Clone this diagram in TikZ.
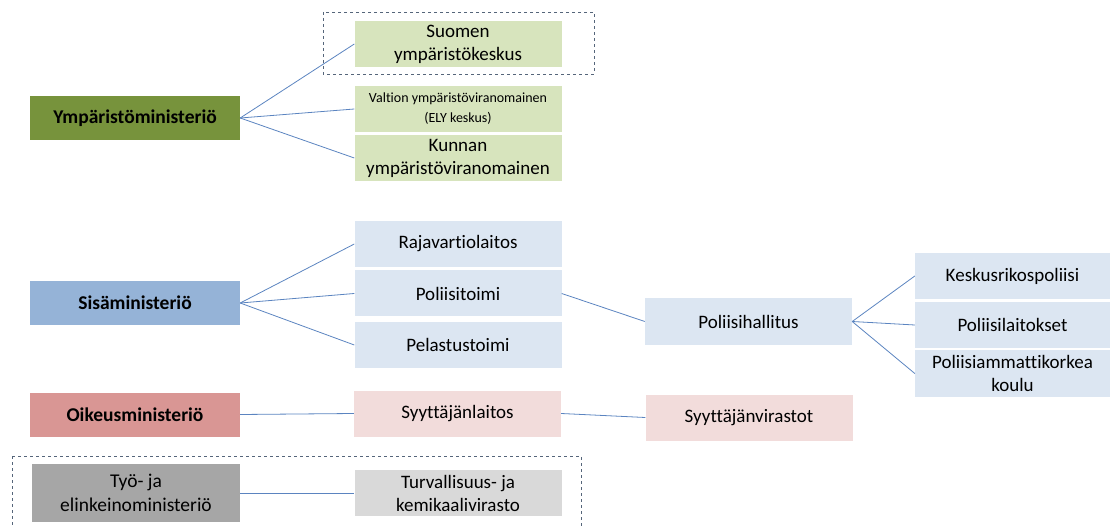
\documentclass[tikz,border=0pt]{standalone}
\usepackage{fontspec}
\setmainfont{Carlito}[Ligatures={NoCommon}]
\definecolor{gdark}{HTML}{77933C}
\definecolor{glight}{HTML}{D7E4BD}
\definecolor{bdark}{HTML}{95B3D7}
\definecolor{blight}{HTML}{DCE6F2}
\definecolor{rdark}{HTML}{D99694}
\definecolor{rlight}{HTML}{F2DCDB}
\definecolor{kdark}{HTML}{A6A6A6}
\definecolor{klight}{HTML}{D9D9D9}
\definecolor{conn}{HTML}{5B84C0}
\definecolor{dashc}{HTML}{55657A}
\tikzset{
  box/.style={rectangle, inner sep=0pt, align=center, font=\fontsize{19}{23}\selectfont, text=black},
  parentbox/.style={box, minimum width=210pt, minimum height=44pt, font=\bfseries\fontsize{19.5}{23}\selectfont},
  childbox/.style={box, minimum width=207pt, minimum height=46pt},
  rightbox/.style={box, minimum width=195pt, minimum height=46pt},
  conline/.style={draw=conn, line width=0.8pt},
  dashbox/.style={draw=dashc, dashed, line width=0.8pt}
}
\begin{document}
\begin{tikzpicture}[x=1pt,y=-1pt]
\useasboundingbox (0,0) rectangle (1118,526);
% dashed frames
\draw[dashbox] (323,12) rectangle (594,74);
\draw[dashbox] (12,456) -- (581,456) -- (581,530);
\draw[dashbox] (12,456) -- (12,530);
% Ympäristöministeriö group
\node[parentbox, fill=gdark] (ym) at (135,118) {Ympäristöministeriö};
\node[childbox, fill=glight] (suomen) at (458,44) {Suomen\\ympäristökeskus};
\node[childbox, fill=glight, font=\fontsize{14}{20}\selectfont] (valtion) at (458,109) {Valtion ympäristöviranomainen\\(ELY keskus)};
\node[childbox, fill=glight] (kunnan) at (458,158) {Kunnan\\ympäristöviranomainen};
% Sisäministeriö group
\node[parentbox, fill=bdark] (sisa) at (135,303) {Sisäministeriö};
\node[childbox, fill=blight] (raja) at (458,244) {Rajavartiolaitos};
\node[childbox, fill=blight] (poltoimi) at (458,293.5) {Poliisitoimi};
\node[childbox, fill=blight] (pelastus) at (458,345) {Pelastustoimi};
\node[childbox, fill=blight] (polhall) at (748.5,321.5) {Poliisihallitus};
\node[rightbox, fill=blight] (krp) at (1012.5,276) {Keskusrikospoliisi};
\node[rightbox, fill=blight] (pollaitos) at (1012.5,325) {Poliisilaitokset};
\node[rightbox, fill=blight, minimum height=47pt] (polamk) at (1012.5,373.5) {Poliisiammattikorkea\\koulu};
% Oikeusministeriö group
\node[parentbox, fill=rdark] (oikeus) at (135,414.5) {Oikeusministeriö};
\node[childbox, fill=rlight] (syytlaitos) at (457.5,413.5) {Syyttäjänlaitos};
\node[childbox, fill=rlight] (syytvir) at (749,417.5) {Syyttäjänvirastot};
% Työ- ja elinkeinoministeriö group
\node[parentbox, fill=kdark, minimum width=208pt, minimum height=58pt, font=\fontsize{19.5}{24}\selectfont] (tem) at (136,493) {Työ- ja\\elinkeinoministeriö};
\node[childbox, fill=klight] (tukes) at (458,493) {Turvallisuus- ja\\kemikaalivirasto};
% connectors
\draw[conline] (ym.east) -- (suomen.west);
\draw[conline] (ym.east) -- (valtion.west);
\draw[conline] (ym.east) -- (kunnan.west);
\draw[conline] (sisa.east) -- (raja.west);
\draw[conline] (sisa.east) -- (poltoimi.west);
\draw[conline] (sisa.east) -- (pelastus.west);
\draw[conline] (poltoimi.east) -- (polhall.west);
\draw[conline] (polhall.east) -- (krp.west);
\draw[conline] (polhall.east) -- (pollaitos.west);
\draw[conline] (polhall.east) -- (polamk.west);
\draw[conline] (oikeus.east) -- (syytlaitos.west);
\draw[conline] (syytlaitos.east) -- (syytvir.west);
\draw[conline] (tem.east) -- (tukes.west);
\end{tikzpicture}
\end{document}
